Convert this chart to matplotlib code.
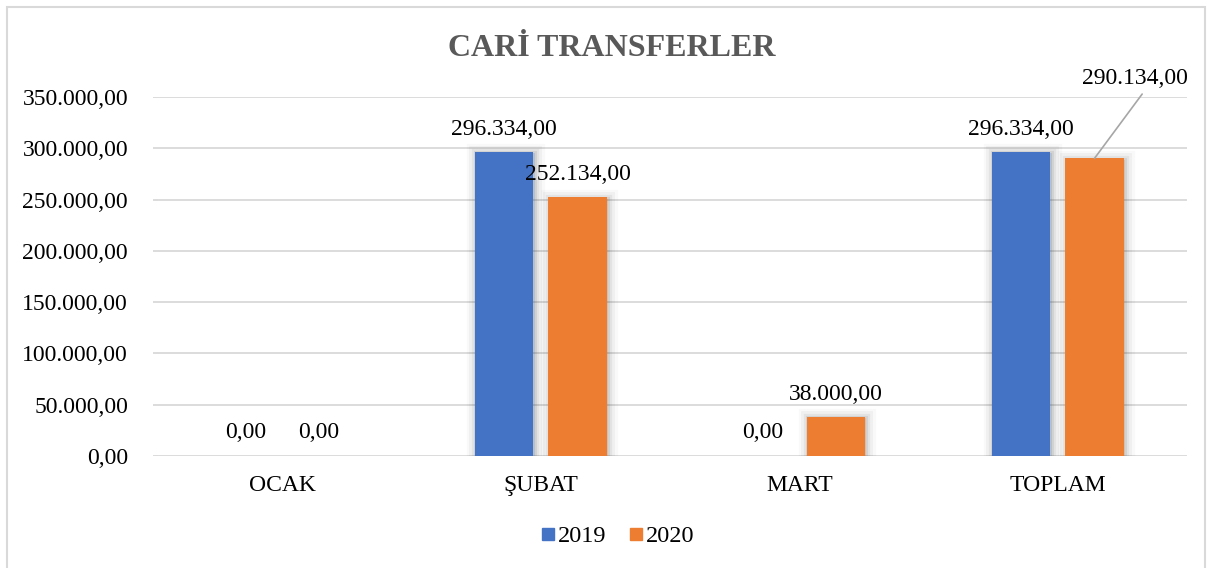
import matplotlib
matplotlib.use("Agg")
import matplotlib.pyplot as plt
import matplotlib.patheffects as pe
from matplotlib.lines import Line2D
from matplotlib.patches import Rectangle
import numpy as np

plt.rcParams["font.family"] = ["Liberation Serif", "DejaVu Serif"]

categories = ["OCAK", "ŞUBAT", "MART", "TOPLAM"]
series_names = ["2019", "2020"]
vals_2019 = [0, 296334, 0, 296334]
vals_2020 = [0, 252134, 38000, 290134]
yticks = [0, 50000, 100000, 150000, 200000, 250000, 300000, 350000]

BLUE = "#4472C4"
ORANGE = "#ED7D31"
GRID = "#D9D9D9"
TITLE = "#595959"


def tr_fmt(v):
    s = f"{v:,.2f}"
    return s.replace(",", "X").replace(".", ",").replace("X", ".")


W, H = 1213, 568
fig = plt.figure(figsize=(W / 100, H / 100), dpi=100)
ax = fig.add_axes([153 / W, 1 - 456 / H, 1034 / W, 359 / H])

x = np.arange(len(categories))
bw = 0.225
off = 0.142
# soft "Excel" shadow: a few wide, faint strokes behind the bar
shadow = [pe.Stroke(linewidth=14, foreground="black", alpha=0.025, offset=(1, -1)),
          pe.Stroke(linewidth=10, foreground="black", alpha=0.035, offset=(1, -1)),
          pe.Stroke(linewidth=6, foreground="black", alpha=0.05, offset=(1, -1)),
          pe.Stroke(linewidth=3, foreground="black", alpha=0.07, offset=(1, -1)),
          pe.Normal()]
b1 = ax.bar(x - off, vals_2019, bw, color=BLUE, zorder=3, lw=0)
b2 = ax.bar(x + off, vals_2020, bw, color=ORANGE, zorder=3, lw=0)
for r in list(b1) + list(b2):
    if r.get_height() > 0:
        r.set_path_effects(shadow)

ax.set_xlim(-0.5, len(categories) - 0.5)
ax.set_ylim(0, 350000)
ax.set_yticks(yticks)
ax.set_yticklabels([tr_fmt(v) for v in yticks], fontsize=17)
ax.set_xticks(x)
ax.set_xticklabels(categories, fontsize=17)
ax.tick_params(length=0)
ax.tick_params(axis="y", pad=18)
ax.tick_params(axis="x", pad=14)
ax.grid(axis="y", color=GRID, lw=1.3, zorder=0)
for s in ax.spines.values():
    s.set_visible(False)

# data labels
for i, v in enumerate(vals_2019):
    ax.annotate(tr_fmt(v), (x[i] - off, v), xytext=(0, 9), textcoords="offset points",
                ha="center", va="bottom", fontsize=17)
for i, v in enumerate(vals_2020):
    if i == 3:
        ax.annotate(tr_fmt(v), (x[i] + off, v), xytext=(3.3, 368000), textcoords="data",
                    ha="center", va="center", fontsize=17, annotation_clip=False,
                    arrowprops=dict(arrowstyle="-", color="#A6A6A6", lw=1.2,
                                    relpos=(0.6, 0), shrinkA=2, shrinkB=0))
    else:
        ax.annotate(tr_fmt(v), (x[i] + off, v), xytext=(0, 9), textcoords="offset points",
                    ha="center", va="bottom", fontsize=17)

fig.text(612 / W, 1 - 48 / H, "CARİ TRANSFERLER", ha="center", va="center",
         fontsize=23, fontweight="bold", color=TITLE)

handles = [Line2D([], [], marker="s", ls="", color=BLUE, markersize=9),
           Line2D([], [], marker="s", ls="", color=ORANGE, markersize=9)]
fig.legend(handles, series_names, loc="center", bbox_to_anchor=(617 / W, 1 - 536 / H),
           ncol=2, frameon=False, fontsize=17.5, handletextpad=0.05, columnspacing=0.9,
           handlelength=0.7)

# chart border
fig.add_artist(Rectangle((7 / W, -0.1), (1205 - 7) / W, (H - 7) / H + 0.1,
                         transform=fig.transFigure, fill=False, ec=GRID, lw=1.5))

fig.savefig("out.png", dpi=100, facecolor="white")
